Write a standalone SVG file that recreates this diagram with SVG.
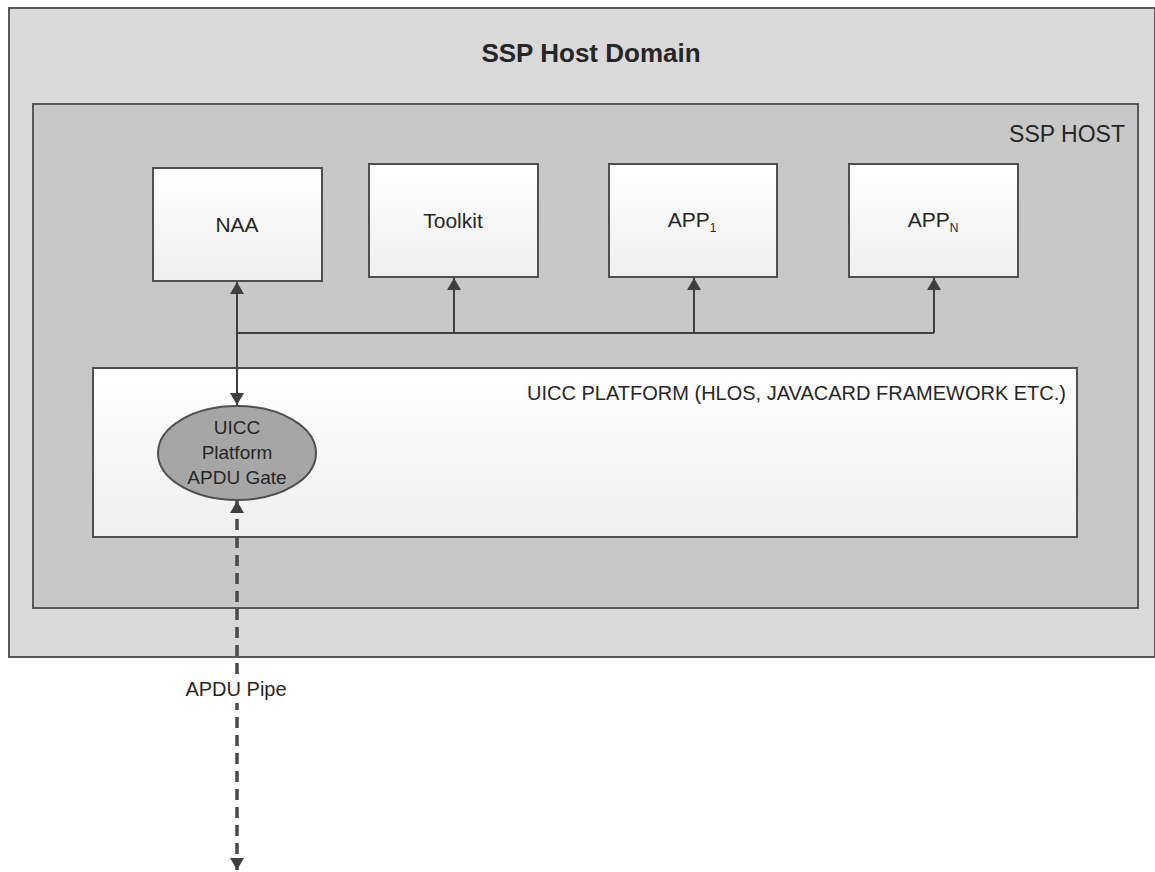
<svg xmlns="http://www.w3.org/2000/svg" width="1155" height="872" viewBox="0 0 1155 872">
<defs>
<linearGradient id="boxg" x1="0" y1="0" x2="0" y2="1">
<stop offset="0" stop-color="#ffffff"/>
<stop offset="1" stop-color="#efefef"/>
</linearGradient>
<marker id="ah" viewBox="0 0 12 14" refX="12" refY="7" markerWidth="12" markerHeight="14" markerUnits="userSpaceOnUse" orient="auto-start-reverse">
<path d="M0,0 L12,7 L0,14 Z" fill="#404040"/>
</marker>
<style>
text{font-family:"Liberation Sans",Arial,sans-serif;fill:#262626}
.frame{stroke:#595959;stroke-width:2}
.box{fill:url(#boxg);stroke:#505050;stroke-width:2}
.conn{stroke:#404040;stroke-width:2;fill:none}
.dash{stroke:#4a4a4a;stroke-width:3.5;fill:none;stroke-dasharray:11 7}
.lbl{font-size:21px;text-anchor:middle}
.el{font-size:19px;text-anchor:middle}
.sub{font-size:12px}
</style>
</defs>
<g id="ssp-host-domain">
<rect x="9" y="8" width="1146" height="649" fill="#d9d9d9" class="frame"/>
<text x="591" y="62" font-size="26" font-weight="bold" text-anchor="middle">SSP Host Domain</text>
</g>
<g id="ssp-host">
<rect x="33" y="104" width="1105" height="504" fill="#c8c8c8" class="frame"/>
<text x="1125" y="142" font-size="23" text-anchor="end">SSP HOST</text>
</g>
<g id="uicc-platform">
<rect x="93" y="368" width="984" height="169" class="box"/>
<text x="1066" y="400" font-size="20" text-anchor="end">UICC PLATFORM (HLOS, JAVACARD FRAMEWORK ETC.)</text>
</g>
<g id="naa">
<rect x="153" y="168" width="169" height="113" class="box"/>
<text x="237" y="232" class="lbl">NAA</text>
</g>
<g id="toolkit">
<rect x="369" y="164" width="169" height="113" class="box"/>
<text x="453" y="228" class="lbl">Toolkit</text>
</g>
<g id="app1">
<rect x="609" y="164" width="168" height="113" class="box"/>
<text x="692" y="227" class="lbl">APP<tspan class="sub" dy="5">1</tspan></text>
</g>
<g id="appn">
<rect x="849" y="164" width="169" height="113" class="box"/>
<text x="933" y="227" class="lbl">APP<tspan class="sub" dy="5">N</tspan></text>
</g>
<g id="apdu-gate">
<ellipse cx="237" cy="453" rx="79" ry="47" fill="#a6a6a6" stroke="#505050" stroke-width="2"/>
<text x="237" y="434" class="el">UICC</text>
<text x="237" y="459" class="el">Platform</text>
<text x="237" y="484" class="el">APDU Gate</text>
</g>
<g id="connectors">
<line x1="237" y1="282" x2="237" y2="405" class="conn" marker-start="url(#ah)" marker-end="url(#ah)"/>
<line x1="237" y1="333" x2="934" y2="333" class="conn"/>
<line x1="454" y1="333" x2="454" y2="278" class="conn" marker-end="url(#ah)"/>
<line x1="694" y1="333" x2="694" y2="278" class="conn" marker-end="url(#ah)"/>
<line x1="934" y1="333" x2="934" y2="278" class="conn" marker-end="url(#ah)"/>
<line x1="237" y1="501" x2="237" y2="870" class="dash" marker-start="url(#ah)" marker-end="url(#ah)"/>
<rect x="180" y="675" width="114" height="28" fill="#ffffff"/>
<text x="236" y="696" font-size="20" text-anchor="middle">APDU Pipe</text>
</g>
</svg>
